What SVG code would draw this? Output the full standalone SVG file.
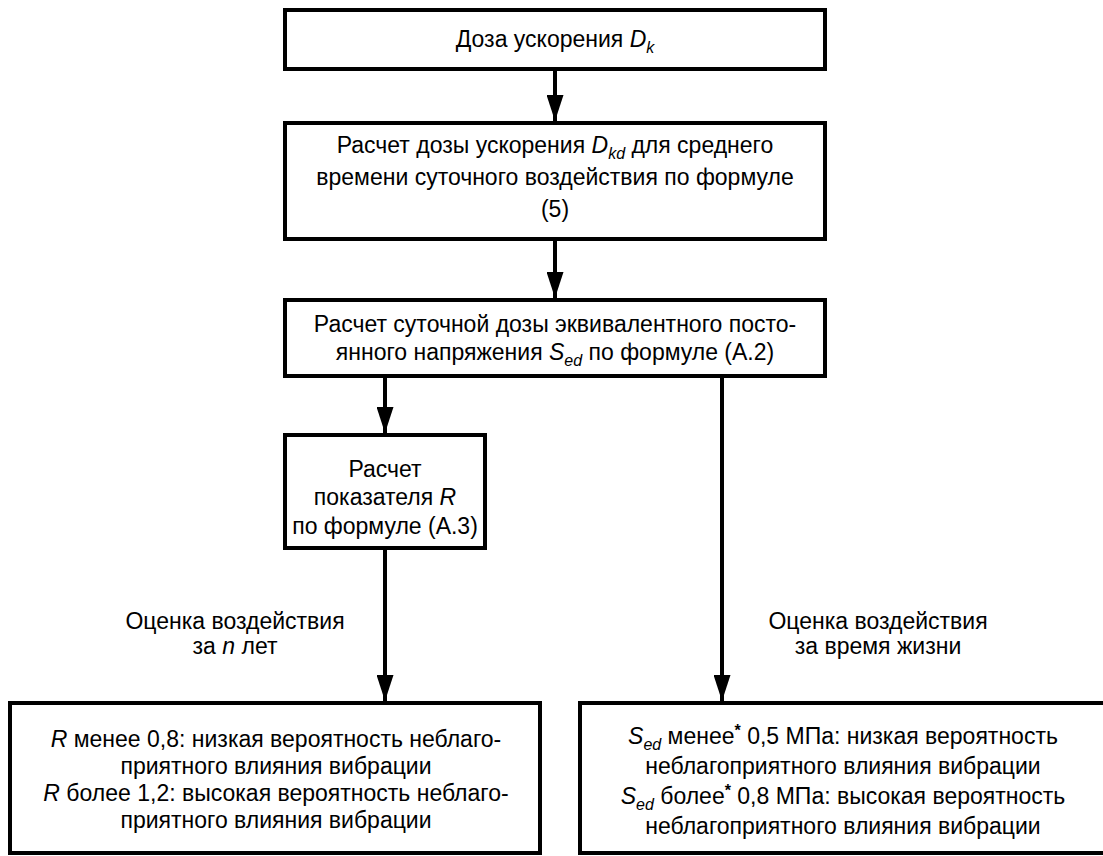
<svg xmlns="http://www.w3.org/2000/svg" width="1103" height="856" viewBox="0 0 1103 856">
<style>
  .box { fill: #ffffff; stroke: #000000; stroke-width: 4; }
  .t { font-family: "Liberation Sans", Arial, sans-serif; font-size: 23px; fill: #000000; text-anchor: middle; }
  .i { font-style: italic; }
  .sub { font-size: 16px; font-style: italic; }
  .sup { font-size: 16px; font-weight: bold; }
  .conn { stroke: #000000; stroke-width: 4; fill: none; marker-end: url(#arrow); }
</style>
<defs>
  <marker id="arrow" viewBox="0 0 26 17" refX="26" refY="8.5" markerWidth="26" markerHeight="17" markerUnits="userSpaceOnUse" orient="auto">
    <path d="M0,0 L26,8.5 L0,17 z" fill="#000000"/>
  </marker>
</defs>
<rect x="0" y="0" width="1103" height="856" fill="#ffffff"/>

<g id="connectors">
  <line class="conn" x1="555" y1="71" x2="555" y2="121"/>
  <line class="conn" x1="555" y1="241" x2="555" y2="298"/>
  <line class="conn" x1="385" y1="378" x2="385" y2="433"/>
  <line class="conn" x1="385" y1="550" x2="385" y2="701"/>
  <line class="conn" x1="722" y1="378" x2="722" y2="701"/>
</g>

<g id="node-dose">
  <rect class="box" x="285" y="10" width="540" height="59"/>
  <text class="t" x="555" y="47">Доза ускорения <tspan class="i">D</tspan><tspan class="sub" dy="6">k</tspan></text>
</g>

<g id="node-dkd">
  <rect class="box" x="285" y="123" width="540" height="116"/>
  <text class="t" x="555" y="153">Расчет дозы ускорения <tspan class="i">D</tspan><tspan class="sub" dy="6">kd</tspan><tspan dy="-6"> для среднего</tspan></text>
  <text class="t" x="555" y="185">времени суточного воздействия по формуле</text>
  <text class="t" x="555" y="217">(5)</text>
</g>

<g id="node-sed">
  <rect class="box" x="285" y="300" width="540" height="76"/>
  <text class="t" x="555" y="332">Расчет суточной дозы эквивалентного посто-</text>
  <text class="t" x="555" y="360">янного напряжения <tspan class="i">S</tspan><tspan class="sub" dy="6">ed</tspan><tspan dy="-6"> по формуле (А.2)</tspan></text>
</g>

<g id="node-r">
  <rect class="box" x="285" y="435" width="200" height="113"/>
  <text class="t" x="385" y="477">Расчет</text>
  <text class="t" x="385" y="505">показателя <tspan class="i">R</tspan></text>
  <text class="t" x="385" y="534">по формуле (А.3)</text>
</g>

<g id="label-n">
  <text class="t" x="235" y="629">Оценка воздействия</text>
  <text class="t" x="235" y="654">за <tspan class="i">n</tspan> лет</text>
</g>

<g id="label-life">
  <text class="t" x="878" y="629">Оценка воздействия</text>
  <text class="t" x="878" y="654">за время жизни</text>
</g>

<g id="node-r-result">
  <rect class="box" x="10" y="703" width="530" height="150"/>
  <text class="t" x="276" y="747"><tspan class="i">R</tspan> менее 0,8: низкая вероятность неблаго-</text>
  <text class="t" x="276" y="774">приятного влияния вибрации</text>
  <text class="t" x="276" y="801"><tspan class="i">R</tspan> более 1,2: высокая вероятность неблаго-</text>
  <text class="t" x="276" y="828">приятного влияния вибрации</text>
</g>

<g id="node-sed-result">
  <rect class="box" x="580" y="703" width="540" height="150"/>
  <text class="t" x="843" y="744"><tspan class="i">S</tspan><tspan class="sub" dy="6">ed</tspan><tspan dy="-6"> менее</tspan><tspan class="sup" dy="-8">*</tspan><tspan dy="8"> 0,5 МПа: низкая вероятность</tspan></text>
  <text class="t" x="843" y="774">неблагоприятного влияния вибрации</text>
  <text class="t" x="843" y="804"><tspan class="i">S</tspan><tspan class="sub" dy="6">ed</tspan><tspan dy="-6"> более</tspan><tspan class="sup" dy="-8">*</tspan><tspan dy="8"> 0,8 МПа: высокая вероятность</tspan></text>
  <text class="t" x="843" y="834">неблагоприятного влияния вибрации</text>
</g>
</svg>
